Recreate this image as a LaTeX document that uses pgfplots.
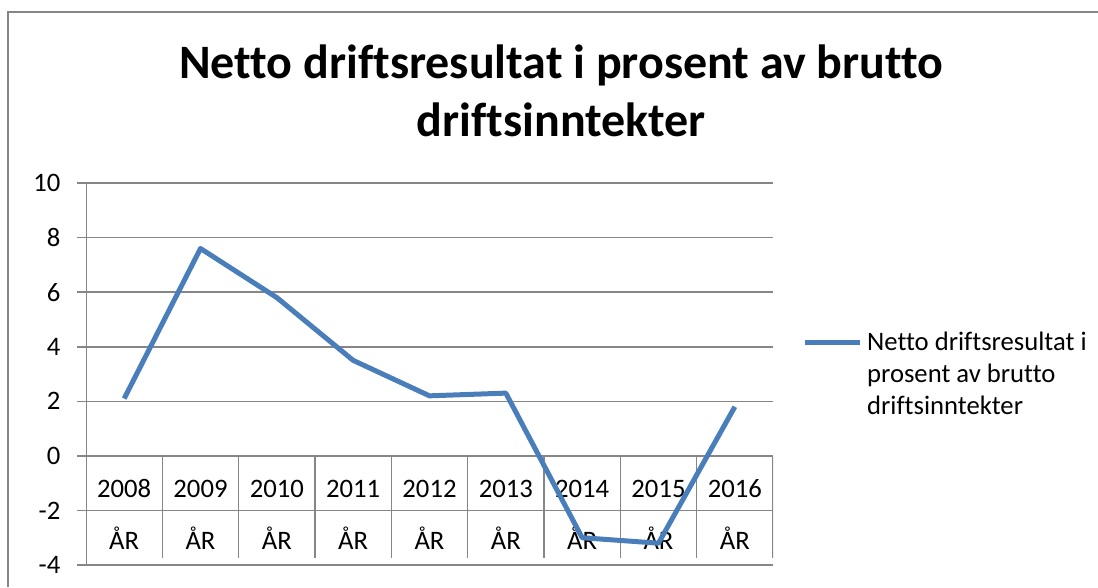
\documentclass[border=0pt]{standalone}
\usepackage{pgfplots}
\pgfplotsset{compat=1.18}
\usepackage{fontspec}
\setmainfont{Carlito}[Ligatures=NoCommon]
\definecolor{serie}{RGB}{74,126,187}
\definecolor{rutenett}{RGB}{134,134,134}

\begin{document}
\begin{tikzpicture}
% 1 px i referansen = 0.75pt
\useasboundingbox (0,0) rectangle (823.5pt,-440.25pt);
\draw[rutenett, line width=1pt] (6pt,-440.25pt) -- (6pt,-9pt) -- (823.5pt,-9pt);

\node[font=\fontsize{36pt}{43pt}\selectfont\bfseries, anchor=base] at (421pt,-58.5pt)
  {Netto driftsresultat i prosent av brutto};
\node[font=\fontsize{36pt}{43pt}\selectfont\bfseries, anchor=base] at (421pt,-102pt)
  {driftsinntekter};

\begin{axis}[
    at={(64.5pt,-423.75pt)}, anchor=south west,
    scale only axis,
    width=515.25pt, height=286.5pt,
    xmin=-0.5, xmax=8.5,
    ymin=-4, ymax=10,
    xtick=\empty,
    ytick={-4,-2,...,10},
    ytick pos=left,
    tick align=outside,
    major tick length=6.75pt,
    tick style={rutenett, line width=1.2pt},
    axis line style={draw=none},
    ymajorgrids,
    grid style={rutenett, line width=1.2pt},
    /pgf/number format/assume math mode=true,
    yticklabel style={font=\fontsize{20pt}{24pt}\selectfont, xshift=-9pt},
    legend style={draw=none, fill=none, at={(1.042,0.5)}, anchor=west,
                  inner sep=0pt, column sep=3.75pt,
                  nodes={inner sep=0pt, align=left,
                         font=\fontsize{20pt}{24pt}\selectfont}},
    legend cell align=left,
    legend image code/.code={\draw[#1] (0pt,24pt) -- (41.25pt,24pt);},
]
% venstre akse og kategoritabell
\draw[rutenett, line width=1.2pt] (axis cs:-0.5,-4) -- (axis cs:-0.5,10);
\pgfplotsinvokeforeach{0.5,1.5,...,8.5}{
  \draw[rutenett, line width=1.2pt] (axis cs:#1,0) -- (axis cs:#1,-3.75);
}
\pgfplotsforeachungrouped \i/\aar in {0/2008,1/2009,2/2010,3/2011,4/2012,5/2013,6/2014,7/2015,8/2016}{
  \edef\tmp{\noexpand\node[anchor=base, font=\noexpand\fontsize{20pt}{24pt}\noexpand\selectfont]
    at (axis cs:\i,-1.54) {\aar};
    \noexpand\node[anchor=base, font=\noexpand\fontsize{20pt}{24pt}\noexpand\selectfont]
    at (axis cs:\i,-3.44) {ÅR};}
  \tmp
}

\addplot[serie, line width=3.75pt, line join=round] coordinates {
  (0,2.1) (1,7.6) (2,5.8) (3,3.5) (4,2.2)
  (5,2.3) (6,-3.0) (7,-3.2) (8,1.8)
};
\addlegendentry{Netto driftsresultat i\\prosent av brutto\\driftsinntekter}
\end{axis}
\end{tikzpicture}
\end{document}
